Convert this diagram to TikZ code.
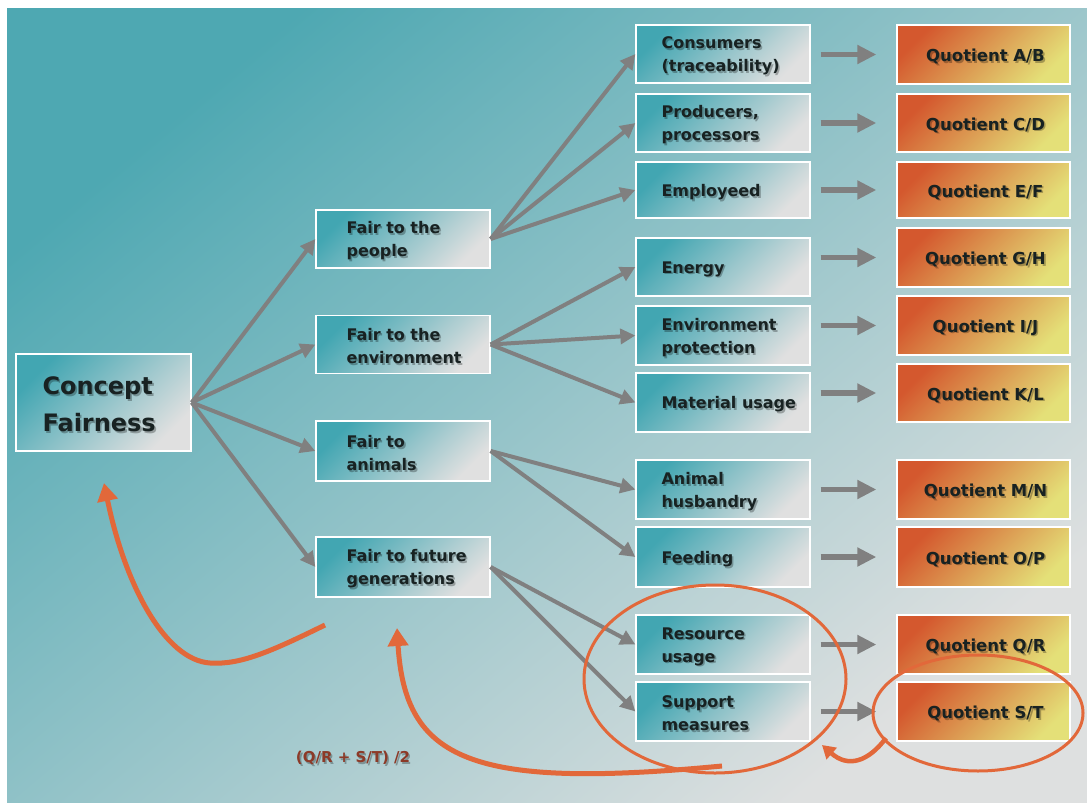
\documentclass[tikz,border=0pt]{standalone}
\usepackage{fontspec}
\setmainfont{DejaVu Sans}
\usetikzlibrary{arrows.meta,shapes.geometric}
\definecolor{bgA}{RGB}{78,168,178}
\definecolor{bgM}{RGB}{160,199,203}
\definecolor{bgB}{RGB}{222,224,224}
\definecolor{boxA}{RGB}{66,166,178}
\definecolor{boxB}{RGB}{224,224,224}
\definecolor{qA}{RGB}{212,88,46}
\definecolor{qM}{RGB}{226,150,80}
\definecolor{qB}{RGB}{228,224,120}
\definecolor{agray}{RGB}{128,128,128}
\definecolor{orng}{RGB}{226,104,58}
\definecolor{txt}{RGB}{24,34,34}
\definecolor{formula}{RGB}{140,58,40}
\tikzset{
  lvbox/.style={draw=white, line width=1.3pt, top color=boxA, bottom color=boxB, shading angle=45,
    minimum width=174pt, minimum height=58pt, inner sep=0pt},
  qbox/.style={draw=white, line width=1.3pt, top color=qA, middle color=qM, bottom color=qB, shading angle=45,
    minimum width=173pt, minimum height=58pt, inner sep=0pt},
  lvtext/.style={anchor=west, align=left, inner sep=0pt, yshift=-2pt, font=\bfseries\fontsize{16}{23}\selectfont, text=txt},
  qtext/.style={inner sep=0pt, yshift=-2pt, font=\bfseries\fontsize{16.5}{22}\selectfont, text=txt},
  rtext/.style={lvtext, font=\bfseries\fontsize{24}{37}\selectfont},
  ftext/.style={inner sep=0pt, font=\bfseries\fontsize{15}{18}\selectfont, text=formula},
  shadowtext/.style={text=black, text opacity=0.28, xshift=1.6pt, yshift=-1.8pt},
  branch/.style={draw=agray, line width=4pt, -{Triangle[length=15pt,width=15pt]}},
  harrow/.style={draw=agray, line width=5.5pt, -{Triangle[length=19pt,width=18pt]}},
  oarrow/.style={draw=orng, line width=5pt, -{Triangle[length=18pt,width=20pt]}},
  oarrowsmall/.style={draw=orng, line width=4.5pt, -{Triangle[length=13pt,width=15pt]}},
  oell/.style={ellipse, draw=orng, line width=3pt, inner sep=0pt},
}
% #1 style, #2 name, #3 position, #4 text
\newcommand\shadowedtext[4]{%
  \node[#1, shadowtext] (#2-s) at #3 {#4};
  \node[#1] (#2) at #3 {#4};
}
\begin{document}
\begin{tikzpicture}[x=1pt,y=-1pt]
\useasboundingbox (0,0) rectangle (1087,803);
\fill[white] (0,0) rectangle (1087,803);
\shade[top color=bgA, middle color=bgM, bottom color=bgB, shading angle=40] (7,8) rectangle (1087,803);

% root
\node[lvbox, minimum width=175pt, minimum height=97pt] (root) at (103.5,402.5) {};
\shadowedtext{rtext}{root-t}{([xshift=27pt]root.west)}{Concept\\Fairness}

% level 2
\node[lvbox] (ppl) at (403,239) {};
\shadowedtext{lvtext}{ppl-t}{([xshift=31pt]ppl.west)}{Fair to the\\people}
\node[lvbox] (env) at (403,344.5) {};
\shadowedtext{lvtext}{env-t}{([xshift=31pt]env.west)}{Fair to the\\environment}
\node[lvbox, minimum height=60pt] (ani) at (403,451) {};
\shadowedtext{lvtext}{ani-t}{([xshift=31pt]ani.west)}{Fair to\\animals}
\node[lvbox, minimum height=60pt] (fut) at (403,567) {};
\shadowedtext{lvtext}{fut-t}{([xshift=31pt]fut.west)}{Fair to future\\generations}

% level 3
\node[lvbox] (cons) at (723,54) {};
\shadowedtext{lvtext}{cons-t}{([xshift=26pt]cons.west)}{Consumers\\(traceability)}
\node[lvbox] (prod) at (723,123) {};
\shadowedtext{lvtext}{prod-t}{([xshift=26pt]prod.west)}{Producers,\\processors}
\node[lvbox, minimum height=56pt] (empl) at (723,190) {};
\shadowedtext{lvtext}{empl-t}{([xshift=26pt]empl.west)}{Employeed}
\node[lvbox] (ener) at (723,267) {};
\shadowedtext{lvtext}{ener-t}{([xshift=26pt]ener.west)}{Energy}
\node[lvbox, minimum height=59pt] (envp) at (723,335.5) {};
\shadowedtext{lvtext}{envp-t}{([xshift=26pt]envp.west)}{Environment\\protection}
\node[lvbox, minimum height=59pt] (mat) at (723,402.5) {};
\shadowedtext{lvtext}{mat-t}{([xshift=26pt]mat.west)}{Material usage}
\node[lvbox, minimum height=59pt] (husb) at (723,489.5) {};
\shadowedtext{lvtext}{husb-t}{([xshift=26pt]husb.west)}{Animal\\husbandry}
\node[lvbox, minimum height=60pt] (feed) at (723,557) {};
\shadowedtext{lvtext}{feed-t}{([xshift=26pt]feed.west)}{Feeding}
\node[lvbox, minimum height=59pt] (res) at (723,644.5) {};
\shadowedtext{lvtext}{res-t}{([xshift=26pt]res.west)}{Resource\\usage}
\node[lvbox, minimum height=59pt] (supp) at (723,711.5) {};
\shadowedtext{lvtext}{supp-t}{([xshift=26pt]supp.west)}{Support\\measures}

% quotients
\node[qbox, minimum height=59pt] (qab) at (983.5,54.5) {};
\shadowedtext{qtext}{qab-t}{([xshift=2pt]qab.center)}{Quotient A/B}
\node[qbox] (qcd) at (983.5,123) {};
\shadowedtext{qtext}{qcd-t}{([xshift=2pt]qcd.center)}{Quotient C/D}
\node[qbox, minimum height=56pt] (qef) at (983.5,190) {};
\shadowedtext{qtext}{qef-t}{([xshift=2pt]qef.center)}{Quotient E/F}
\node[qbox, minimum height=59pt] (qgh) at (983.5,257.5) {};
\shadowedtext{qtext}{qgh-t}{([xshift=2pt]qgh.center)}{Quotient G/H}
\node[qbox, minimum height=59pt] (qij) at (983.5,325.5) {};
\shadowedtext{qtext}{qij-t}{([xshift=2pt]qij.center)}{Quotient I/J}
\node[qbox] (qkl) at (983.5,393) {};
\shadowedtext{qtext}{qkl-t}{([xshift=2pt]qkl.center)}{Quotient K/L}
\node[qbox, minimum height=59pt] (qmn) at (983.5,489.5) {};
\shadowedtext{qtext}{qmn-t}{([xshift=2pt]qmn.center)}{Quotient M/N}
\node[qbox, minimum height=60pt] (qop) at (983.5,557) {};
\shadowedtext{qtext}{qop-t}{([xshift=2pt]qop.center)}{Quotient O/P}
\node[qbox, minimum height=59pt] (qqr) at (983.5,644.5) {};
\shadowedtext{qtext}{qqr-t}{([xshift=2pt]qqr.center)}{Quotient Q/R}
\node[qbox, minimum height=59pt] (qst) at (983.5,711.5) {};
\shadowedtext{qtext}{qst-t}{([xshift=2pt]qst.center)}{Quotient S/T}

% branch arrows
\foreach \t in {ppl,env,ani,fut} \draw[branch] (root.east) -- (\t.west);
\foreach \t in {cons,prod,empl} \draw[branch] (ppl.east) -- (\t.west);
\foreach \t in {ener,envp,mat} \draw[branch] (env.east) -- (\t.west);
\foreach \t in {husb,feed} \draw[branch] (ani.east) -- (\t.west);
\foreach \t in {res,supp} \draw[branch] (fut.east) -- (\t.west);

% horizontal arrows
\foreach \s/\q in {cons/qab,prod/qcd,empl/qef,ener/qgh,envp/qij,mat/qkl,husb/qmn,feed/qop,res/qqr,supp/qst}
  \draw[harrow, shorten <=10pt, shorten >=20pt] (\s.east |- \q.west) -- (\q.west);

% orange ellipses
\node[oell, minimum width=262pt, minimum height=188pt] (bigell) at (715,679) {};
\node[oell, minimum width=210pt, minimum height=116pt] (smell) at (978,713) {};

% orange curved arrows
\coordinate (c1s) at (325,625);
\coordinate (c1e) at (104,483);
\draw[oarrow] (c1s) .. controls (270,652) and (240,665) .. (210,663) .. controls (165,660) and (125,585) .. (c1e);
\coordinate (c2s) at (722,766);
\coordinate (c2e) at (397,628);
\draw[oarrow] (c2s) .. controls (470,790) and (405,760) .. (c2e);
\coordinate (c3s) at (886,738);
\coordinate (c3e) at (822,745);
\draw[oarrowsmall] (c3s) .. controls (868,762) and (848,768) .. (c3e);

% formula
\shadowedtext{ftext}{form}{(353,758)}{(Q/R + S/T) /2}
\end{tikzpicture}
\end{document}
